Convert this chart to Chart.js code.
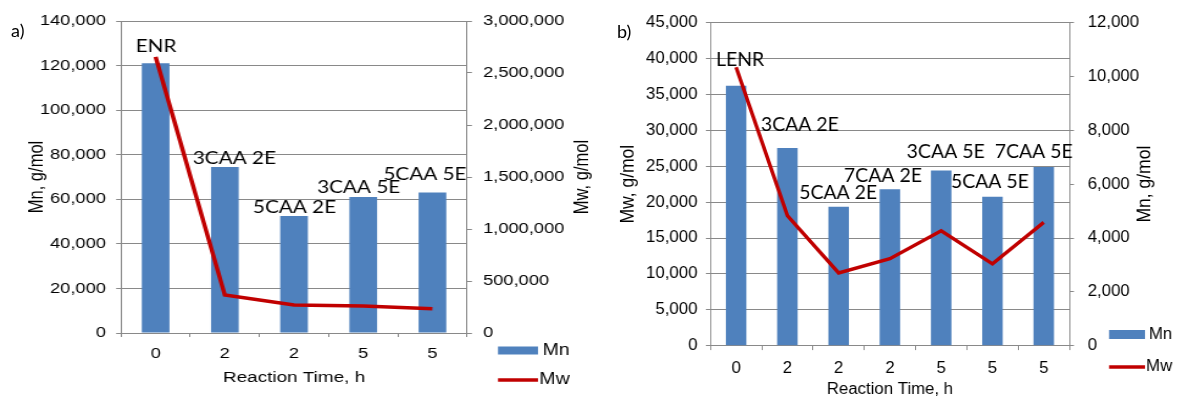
<!DOCTYPE html>
<html>
<head>
<meta charset="utf-8">
<script src="https://cdn.jsdelivr.net/npm/chart.js@4.4.1/dist/chart.umd.min.js"></script>
<style>
  html, body { margin: 0; padding: 0; background: #fff; }
  body { position: relative; width: 1177px; height: 396px; overflow: hidden; }
  canvas { position: absolute; top: 0; transform-origin: 0 0; }
  #chart-a { left: 0; transform: scaleX(1.22); }
  #chart-b { left: 600px; transform: scaleX(1.05); }
  .tag { position: absolute; font-family: Lato, sans-serif; font-size: 18px; line-height: 18px; color: #000; }
</style>
</head>
<body>
<canvas id="chart-a" width="492" height="396"></canvas>
<canvas id="chart-b" width="550" height="396"></canvas>
<div class="tag" style="left:11px; top:21px">a)</div>
<div class="tag" style="left:617px; top:22px">b)</div>
<script>
Chart.defaults.font.family = '"Liberation Sans", Arial, sans-serif';
Chart.defaults.color = '#000';
Chart.defaults.animation = false;

var gridGrey = '#898989';
var barBlue = '#4F81BD';
var lineRed = '#C00000';

// a) ENR samples
var timeA = ['0', '2', '2', '5', '5'];
var namesA = ['ENR', '3CAA 2E', '5CAA 2E', '3CAA 5E', '5CAA 5E'];
var mnA = [121000, 74500, 52500, 61000, 63000];
var mwA = [2655000, 365000, 270000, 260000, 232000];

// b) LENR samples
var timeB = ['0', '2', '2', '2', '5', '5', '5'];
var namesB = ['LENR', '3CAA 2E', '5CAA 2E', '7CAA 2E', '3CAA 5E', '5CAA 5E', '7CAA 5E'];
var mnB = [36200, 27550, 19350, 21800, 24400, 20750, 24900];
var mwB = [10340, 4830, 2700, 3230, 4270, 3040, 4580];

function thousands(v) { return Number(v).toLocaleString('en-US'); }

// sample names written above each bar
var sampleLabels = {
  id: 'sampleLabels',
  afterDatasetsDraw: function(chart, args, opts) {
    var ctx = chart.ctx;
    var bars = chart.getDatasetMeta(0).data;
    ctx.save();
    ctx.font = opts.size + 'px Lato';
    ctx.fillStyle = '#000';
    ctx.textAlign = 'center';
    ctx.textBaseline = 'alphabetic';
    bars.forEach(function(bar, i) {
      var dx = opts.shift[i][0] / opts.stretch;
      var dy = opts.shift[i][1];
      ctx.fillText(opts.names[i], bar.x + dx, bar.y + dy + opts.size * 0.36);
    });
    ctx.restore();
  }
};

// right axis title, read bottom to top like the left one
var sideTitle = {
  id: 'sideTitle',
  afterDraw: function(chart, args, opts) {
    var ctx = chart.ctx;
    var area = chart.chartArea;
    ctx.save();
    ctx.translate(opts.x, (area.top + area.bottom) / 2);
    ctx.rotate(-Math.PI / 2);
    ctx.font = opts.size + 'px "Liberation Sans"';
    ctx.fillStyle = '#000';
    ctx.textAlign = 'center';
    ctx.textBaseline = 'middle';
    ctx.fillText(opts.text, 0, 0);
    ctx.restore();
  }
};

// put the legend under the right axis labels; text is right-aligned to opts.right
var legendSpot = {
  id: 'legendSpot',
  afterLayout: function(chart, args, opts) {
    var lg = chart.legend;
    lg.left = opts.x;
    lg.top = opts.y;
    lg.right = opts.right;
    lg.bottom = chart.height + 200;
    lg.width = lg.right - lg.left;
    lg.height = lg.bottom - lg.top;
  }
};

function buildChart(id, p) {
  return new Chart(document.getElementById(id), {
    type: 'bar',
    data: {
      labels: p.time,
      datasets: [{
        label: 'Mn',
        data: p.bars,
        yAxisID: 'y',
        backgroundColor: barBlue,
        borderWidth: 0,
        categoryPercentage: 1,
        barPercentage: 0.4,
        pointStyle: 'rect',
        order: 1
      }, {
        type: 'line',
        label: 'Mw',
        data: p.line,
        yAxisID: 'y1',
        borderColor: lineRed,
        backgroundColor: lineRed,
        borderWidth: 3.5,
        pointRadius: 0,
        tension: 0,
        fill: false,
        pointStyle: 'line',
        order: 0
      }]
    },
    plugins: [sampleLabels, sideTitle, legendSpot],
    options: {
      responsive: false,
      events: [],
      layout: { padding: { top: p.top, left: 0, right: 0, bottom: 0 } },
      scales: {
        x: {
          grid: { drawOnChartArea: false, drawTicks: true, tickLength: p.tickLen, color: gridGrey },
          border: { color: gridGrey },
          ticks: { font: { size: p.tickSize }, padding: p.xTickPad },
          title: { display: true, text: 'Reaction Time, h', font: { size: p.xTitleSize }, padding: { top: 0, bottom: p.xTitlePad } },
          afterFit: function(s) { s.height = p.xAxis; }
        },
        y: {
          position: 'left',
          min: 0, max: p.yMax,
          grid: { color: gridGrey, tickLength: p.tickLen },
          border: { color: gridGrey },
          ticks: { stepSize: p.yStep, font: { size: p.tickSize }, padding: p.tickGap, callback: thousands },
          title: { display: true, text: p.leftTitle, font: { size: p.titleSize }, padding: { top: p.titlePad, bottom: 0 } },
          afterFit: function(s) { s.width = p.leftAxis; }
        },
        y1: {
          position: 'right',
          min: 0, max: p.y1Max,
          grid: { drawOnChartArea: false, color: gridGrey, tickLength: p.tickLen },
          border: { color: gridGrey },
          ticks: { stepSize: p.y1Step, font: { size: p.tickSize }, padding: p.tickGapRight, callback: thousands },
          afterFit: function(s) { s.width = p.rightAxis; }
        }
      },
      plugins: {
        tooltip: { enabled: false },
        legend: {
          position: 'chartArea',
          align: 'start',
          labels: {
            usePointStyle: true,
            pointStyleWidth: p.legendBoxW,
            boxHeight: p.legendBoxH,
            padding: p.legendPad,
            textAlign: 'right',
            font: { size: 16 },
            color: '#000',
            sort: function(a, b) { return a.datasetIndex - b.datasetIndex; }
          }
        },
        sampleLabels: { names: p.names, shift: p.shift, size: p.labelSize, stretch: p.stretch },
        sideTitle: { text: p.rightTitle, x: p.sideX, size: p.titleSize },
        legendSpot: { x: p.legendX, y: p.legendY, right: p.legendRight }
      }
    }
  });
}

var chartA = buildChart('chart-a', {
  time: timeA, names: namesA, bars: mnA, line: mwA,
  leftTitle: 'Mn, g/mol', rightTitle: 'Mw, g/mol',
  yMax: 140000, yStep: 20000, y1Max: 3000000, y1Step: 500000,
  stretch: 1.22, top: 21, leftAxis: 99.2, rightAxis: 109.2, xAxis: 63,
  tickLen: 4, tickSize: 15, tickGap: 8.3, tickGapRight: 9.1,
  xTickPad: 8, xTitleSize: 15.5, xTitlePad: 9.2,
  titleSize: 16.5, titlePad: 20.4, sideX: 477,
  labelSize: 17,
  shift: [[0.5, -17], [9.5, -9], [0.5, -9], [-4.5, -10.5], [-7.5, -18.5]],
  legendX: 394.7, legendY: 329, legendRight: 467, legendPad: 13.5, legendBoxW: 32.8, legendBoxH: 8
});

var chartB = buildChart('chart-b', {
  time: timeB, names: namesB, bars: mnB, line: mwB,
  leftTitle: 'Mw, g/mol', rightTitle: 'Mn, g/mol',
  yMax: 45000, yStep: 5000, y1Max: 12000, y1Step: 2000,
  stretch: 1.05, top: 20.7, leftAxis: 105.2, rightAxis: 103, xAxis: 50.3,
  tickLen: 4.4, tickSize: 16, tickGap: 8, tickGapRight: 13,
  xTickPad: 8.6, xTitleSize: 16, xTitlePad: -3,
  titleSize: 17.5, titlePad: 16.2, sideX: 519,
  labelSize: 18.5,
  shift: [[4, -26.5], [12.5, -24], [-0.5, -14], [-7, -14], [4.5, -19], [-2.5, -15.5], [-10, -16]],
  legendX: 468.3, legendY: 310, legendRight: 545, legendPad: 16.5, legendBoxW: 34.3, legendBoxH: 9
});
</script>
</body>
</html>
